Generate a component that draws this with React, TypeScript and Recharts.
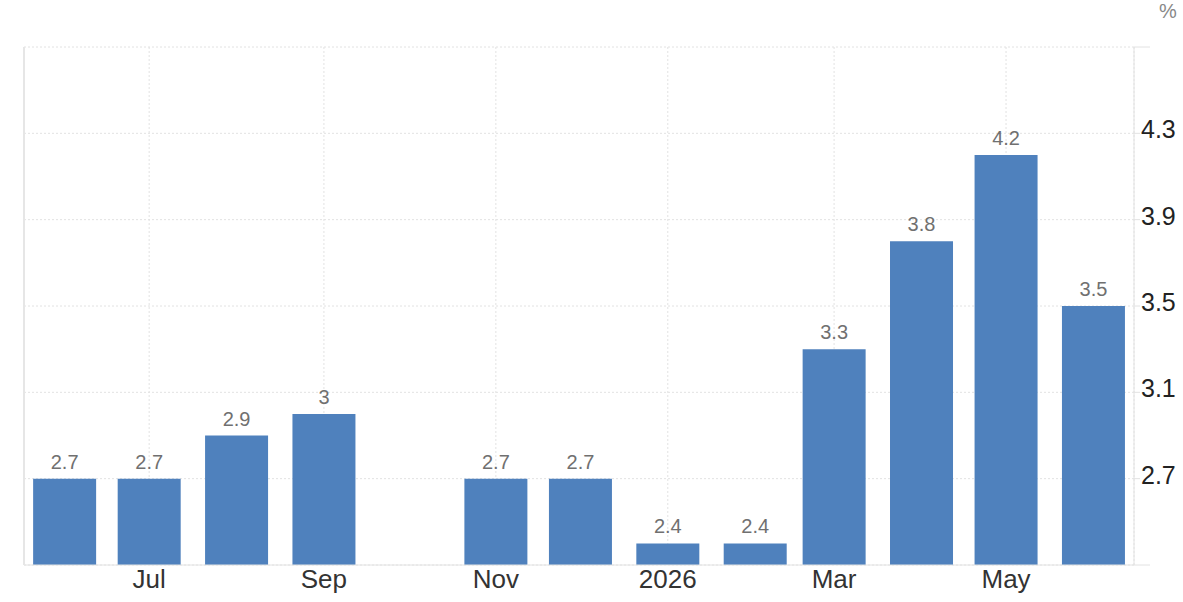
import { BarChart, Bar, XAxis, YAxis, CartesianGrid, LabelList } from 'recharts';

// monthly readings, Oct 2025 has no value
const months = ['2025-06', '2025-07', '2025-08', '2025-09', '2025-10', '2025-11', '2025-12', '2026-01', '2026-02', '2026-03', '2026-04', '2026-05', '2026-06'];
const values = [2.7, 2.7, 2.9, 3, null, 2.7, 2.7, 2.4, 2.4, 3.3, 3.8, 4.2, 3.5];

const tickMonths = ['2025-07', '2025-09', '2025-11', '2026-01', '2026-03', '2026-05'];
const tickLabels = ['Jul', 'Sep', 'Nov', '2026', 'Mar', 'May'];

const yTicks = [2.3, 2.7, 3.1, 3.5, 3.9, 4.3, 4.7];
const yLabelled = [2.7, 3.1, 3.5, 3.9, 4.3];

const toTime = (m: string) => {
  const [y, mo] = m.split('-').map(Number);
  return Date.UTC(y, mo - 1, 1);
};

const DAY = 86400000;

const data = months.map((m, i) => ({ t: toTime(m), value: values[i] }));
const xTicks = tickMonths.map(toTime);

const FONT = '"Liberation Sans", Arial, sans-serif';

const RightTick = (props: any) => {
  const { x, y, payload } = props;
  const v = payload.value;
  const show = yLabelled.includes(v);
  return (
    <g>
      <line x1={x} x2={x + (show ? 6 : 16)} y1={y} y2={y} stroke="#e2e2e2" />
      {show && (
        <text x={x + 7} y={y} dy={5} fill="#222" fontSize={25} fontFamily={FONT}>
          {v}
        </text>
      )}
    </g>
  );
};

const App = () => {
  const first = data[0].t;
  const last = data[data.length - 1].t;

  return (
    <div style={{ position: 'absolute', left: 0, top: 0, width: 1183, height: 602, background: '#fff' }}>
      <BarChart
        width={1183}
        height={602}
        data={data}
        margin={{ top: 47, right: 0, bottom: 0, left: 0 }}
        barSize={63}
      >
        <CartesianGrid yAxisId="r" stroke="#e2e2e2" strokeDasharray="2 2" />
        <XAxis
          dataKey="t"
          type="number"
          scale="time"
          domain={[first - 14.4 * DAY, last + 14.4 * DAY]}
          ticks={xTicks}
          tickFormatter={(t) => tickLabels[xTicks.indexOf(t)]}
          height={37}
          tickSize={0}
          tickMargin={5}
          axisLine={{ stroke: '#e2e2e2' }}
          tick={{ fill: '#333', fontSize: 26, fontFamily: FONT }}
          interval={0}
        />
        <YAxis
          yAxisId="l"
          orientation="left"
          width={24}
          domain={[2.3, 4.7]}
          tick={false}
          tickLine={false}
          axisLine={{ stroke: '#e6e6e6', strokeWidth: 2 }}
        />
        <YAxis
          yAxisId="r"
          orientation="right"
          width={49}
          domain={[2.3, 4.7]}
          ticks={yTicks}
          interval={0}
          tickSize={0}
          tickMargin={0}
          tickLine={false}
          axisLine={{ stroke: '#e2e2e2' }}
          tick={<RightTick />}
        />
        <Bar yAxisId="r" dataKey="value" fill="#4f81bd" isAnimationActive={false}>
          <LabelList
            dataKey="value"
            position="top"
            offset={10}
            fill="#707070"
            fontSize={20}
            fontFamily={FONT}
          />
        </Bar>
      </BarChart>
      <div
        style={{
          position: 'absolute',
          left: 1159,
          top: 0,
          fontSize: 20,
          color: '#888',
          fontFamily: FONT,
        }}
      >
        %
      </div>
    </div>
  );
};

export default App;
